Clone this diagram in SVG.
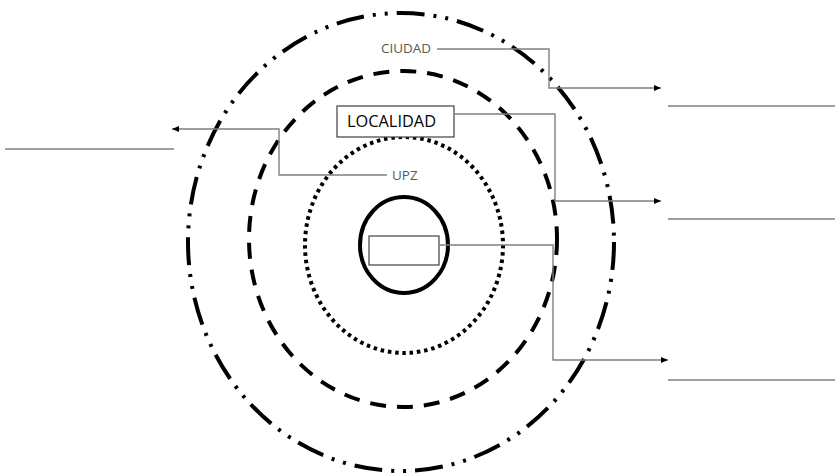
<svg xmlns="http://www.w3.org/2000/svg" width="835" height="475" viewBox="0 0 835 475">
<style>
.ring{fill:none;stroke:#000;stroke-width:4}
.c{fill:none;stroke:#7f7f7f;stroke-width:1.4}
.blank{stroke:#7f7f7f;stroke-width:1.4}
.lbl{font-family:"Open Sans","Liberation Sans",sans-serif;fill:#595959;font-size:13.5px}
</style>
<defs>
<marker id="ah" markerWidth="8" markerHeight="8" refX="7" refY="4" orient="auto" markerUnits="userSpaceOnUse">
<path d="M0,1 L7,4 L0,7 Z" fill="#000"/>
</marker>
</defs>
<rect width="835" height="475" fill="#fff"/>
<g id="ciudad-ring"><ellipse class="ring" cx="401" cy="242" rx="213" ry="229" stroke-dasharray="28 9 3 9 3 9"/></g>
<g id="localidad-ring"><ellipse class="ring" cx="403" cy="239" rx="154" ry="168" stroke-dasharray="16 11"/></g>
<g id="upz-ring"><ellipse class="ring" cx="404" cy="245" rx="99" ry="108" stroke-dasharray="3.5 3.8"/></g>
<g id="inner-ring"><ellipse class="ring" cx="404" cy="245" rx="44" ry="48"/></g>
<g id="inner-box"><rect x="369" y="236" width="70" height="29" fill="#fff" stroke="#404040" stroke-width="1.2"/></g>
<g id="localidad-box"><rect x="337" y="106" width="117" height="31" fill="#fff" stroke="#404040" stroke-width="1.2"/><text x="347" y="127" font-family="'Open Sans','Liberation Sans',sans-serif" font-size="15.5" fill="#000" textLength="89" lengthAdjust="spacingAndGlyphs">LOCALIDAD</text></g>
<g id="ciudad-label"><text class="lbl" x="381" y="53" textLength="50" lengthAdjust="spacingAndGlyphs">CIUDAD</text></g>
<g id="upz-label"><text class="lbl" x="392" y="180">UPZ</text></g>
<g id="blanks">
<line class="blank" x1="5" y1="149" x2="174" y2="149"/>
<line class="blank" x1="668" y1="106" x2="835" y2="106"/>
<line class="blank" x1="668" y1="219" x2="835" y2="219"/>
<line class="blank" x1="668" y1="380" x2="835" y2="380"/>
</g>
<g id="connectors">
<polyline class="c" points="437,49 549,49 549,88 661,88" marker-end="url(#ah)"/>
<polyline class="c" points="454,114 555,114 555,201 661,201" marker-end="url(#ah)"/>
<polyline class="c" points="439,245 553,245 553,360 668,360" marker-end="url(#ah)"/>
<polyline class="c" points="387,175 279,175 279,129 172,129" marker-end="url(#ah)"/>
</g>
</svg>
